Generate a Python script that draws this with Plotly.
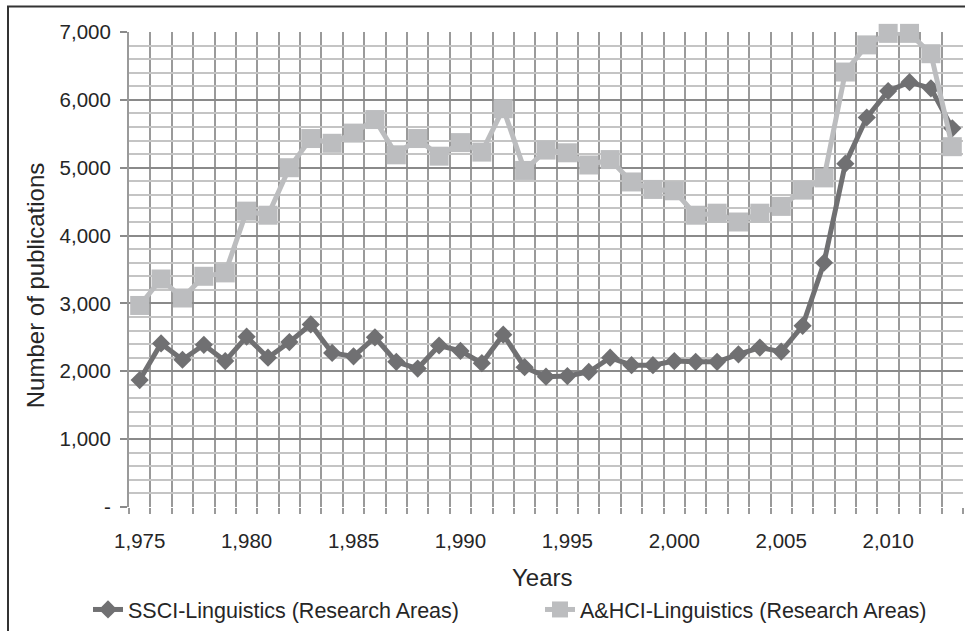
import plotly.graph_objects as go

years = list(range(1975, 2014))
ssci = [1870, 2410, 2170, 2390, 2150, 2510, 2200, 2430, 2690, 2270, 2220, 2500, 2140, 2040,
        2380, 2300, 2120, 2540, 2060, 1920, 1930, 1990, 2200, 2090, 2090, 2150, 2140, 2140,
        2250, 2350, 2290, 2670, 3600, 5060, 5740, 6130, 6260, 6170, 5580]
ahci = [2970, 3360, 3080, 3400, 3450, 4360, 4300, 5000, 5430, 5360, 5510, 5710, 5190, 5430,
        5170, 5370, 5230, 5870, 4960, 5260, 5220, 5040, 5120, 4790, 4680, 4660, 4300, 4330,
        4200, 4330, 4430, 4670, 4850, 6410, 6810, 6980, 6980, 6680, 5310]
x_tick_vals = [1975, 1980, 1985, 1990, 1995, 2000, 2005, 2010]
x_tick_text = ["1,975", "1,980", "1,985", "1,990", "1,995", "2,000", "2,005", "2,010"]
y_tick_vals = [0, 1000, 2000, 3000, 4000, 5000, 6000, 7000]
y_tick_text = ["-", "1,000", "2,000", "3,000", "4,000", "5,000", "6,000", "7,000"]

FONT = "Liberation Sans, Arial, sans-serif"
TXT = "#262626"

# plot area in page pixels
L, R, T, B = 129, 963, 32, 506.6
W, H = 965, 631
PW, PH = R - L, B - T


def px(x):
    return (x - L) / PW


def py(y):
    return (B - y) / PH


fig = go.Figure()
fig.add_trace(go.Scatter(
    x=years, y=ssci, name="SSCI-Linguistics (Research Areas)", mode="lines+markers",
    line=dict(color="#707072", width=5), marker=dict(symbol="diamond", size=14, color="#707072"),
    cliponaxis=False, legend="legend"))
fig.add_trace(go.Scatter(
    x=years, y=ahci, name="A&HCI-Linguistics (Research Areas)", mode="lines+markers",
    line=dict(color="#bcbdbf", width=5), marker=dict(symbol="square", size=19, color="#bcbdbf"),
    cliponaxis=False, legend="legend2"))

leg_common = dict(orientation="h", yanchor="middle", xanchor="left",
                  font=dict(size=21.5, color=TXT), bgcolor="rgba(0,0,0,0)", borderwidth=0)

fig.update_layout(
    width=W, height=H,
    margin=dict(l=L, r=W - R, t=T, b=H - B, autoexpand=False),
    paper_bgcolor="white", plot_bgcolor="white",
    font=dict(family=FONT, size=20.5, color=TXT),
    showlegend=True,
    legend=dict(x=px(88), y=py(609), **leg_common),
    legend2=dict(x=px(540), y=py(609), **leg_common),
    xaxis=dict(
        range=[1974.5, 2013.5], tickmode="array", tickvals=x_tick_vals, ticktext=x_tick_text,
        showgrid=False, zeroline=False, ticks="outside", ticklen=6, tickcolor="rgba(0,0,0,0)",
        ticklabelstandoff=9, tickfont=dict(size=20.5, color=TXT), automargin=False,
        minor=dict(tick0=1974.5, dtick=1, showgrid=True, gridcolor="#9a9a9a", gridwidth=2,
                   ticks="outside", ticklen=6, tickcolor="#9a9a9a", tickwidth=2),
        showline=False,
    ),
    yaxis=dict(
        range=[0, 7000], tickmode="array", tickvals=y_tick_vals, ticktext=y_tick_text,
        showgrid=True, gridcolor="#8a8a8a", gridwidth=2, zeroline=False,
        ticks="outside", ticklen=7, tickcolor="#8a8a8a", tickwidth=2, automargin=False,
        ticklabelstandoff=5, tickfont=dict(size=20.5, color=TXT),
        minor=dict(dtick=200, tick0=0, showgrid=True, gridcolor="#c4c4c4", gridwidth=2),
        showline=True, linecolor="#9a9a9a", linewidth=2,
    ),
    annotations=[
        dict(text="Number of publications", xref="paper", yref="paper", x=px(35), y=py(286),
             textangle=-90, showarrow=False, font=dict(size=24, color=TXT),
             xanchor="center", yanchor="middle"),
        dict(text="Years", xref="paper", yref="paper", x=px(542), y=py(577),
             showarrow=False, font=dict(size=24, color=TXT), xanchor="center", yanchor="middle"),
    ],
    shapes=[
        dict(type="rect", xref="paper", yref="paper", x0=px(8), x1=px(1000), y0=py(700), y1=py(6.5),
             line=dict(color="#333333", width=2), fillcolor="rgba(0,0,0,0)", layer="above"),
    ],
)

fig.write_html("out.html", config={"displayModeBar": False},
               post_script="document.body.style.margin='0';document.body.style.overflow='hidden';")
